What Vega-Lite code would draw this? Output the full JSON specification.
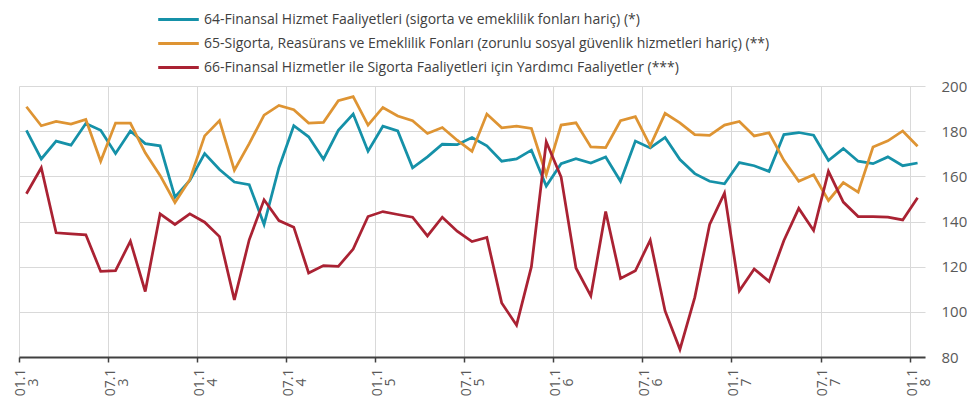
{
  "$schema": "https://vega.github.io/schema/vega-lite/v6.json",
  "width": 906,
  "height": 271,
  "autosize": {"type": "none"},
  "padding": {"left": 19, "top": 86, "right": 42, "bottom": 45},
  "background": "white",
  "config": {
    "view": {"stroke": null},
    "font": "Open Sans"
  },
  "data": {
    "values": [
      {"m":"01.13","f64":180.4,"f65":190.8,"f66":152.3},
      {"m":"02.13","f64":167.7,"f65":182.4,"f66":163.8},
      {"m":"03.13","f64":175.6,"f65":184.3,"f66":135.0},
      {"m":"04.13","f64":173.8,"f65":183.1,"f66":134.5},
      {"m":"05.13","f64":183.4,"f65":185.2,"f66":134.1},
      {"m":"06.13","f64":180.4,"f65":166.7,"f66":117.9},
      {"m":"07.13","f64":170.1,"f65":183.6,"f66":118.2},
      {"m":"08.13","f64":180.1,"f65":183.6,"f66":131.3},
      {"m":"09.13","f64":174.5,"f65":170.4,"f66":109.0},
      {"m":"10.13","f64":173.5,"f65":160.4,"f66":143.4},
      {"m":"11.13","f64":150.8,"f65":148.4,"f66":138.7},
      {"m":"12.13","f64":158.2,"f65":158.5,"f66":143.4},
      {"m":"01.14","f64":170.1,"f65":177.9,"f66":139.7},
      {"m":"02.14","f64":163.0,"f65":184.7,"f66":133.3},
      {"m":"03.14","f64":157.5,"f65":162.7,"f66":105.3},
      {"m":"04.14","f64":156.3,"f65":174.5,"f66":131.9},
      {"m":"05.14","f64":138.7,"f65":187.1,"f66":149.6},
      {"m":"06.14","f64":163.8,"f65":191.4,"f66":140.4},
      {"m":"07.14","f64":182.4,"f65":189.5,"f66":137.5},
      {"m":"08.14","f64":177.5,"f65":183.6,"f66":117.2},
      {"m":"09.14","f64":167.6,"f65":183.9,"f66":120.5},
      {"m":"10.14","f64":180.4,"f65":193.5,"f66":120.1},
      {"m":"11.14","f64":187.6,"f65":195.3,"f66":127.8},
      {"m":"12.14","f64":171.1,"f65":182.7,"f66":142.2},
      {"m":"01.15","f64":182.2,"f65":190.5,"f66":144.4},
      {"m":"02.15","f64":180.1,"f65":186.7,"f66":143.1},
      {"m":"03.15","f64":163.8,"f65":184.6,"f66":141.9},
      {"m":"04.15","f64":168.6,"f65":179.0,"f66":133.6},
      {"m":"05.15","f64":174.2,"f65":181.6,"f66":141.9},
      {"m":"06.15","f64":174.0,"f65":176.0,"f66":135.7},
      {"m":"07.15","f64":177.2,"f65":171.1,"f66":131.1},
      {"m":"08.15","f64":173.5,"f65":187.6,"f66":132.9},
      {"m":"09.15","f64":166.7,"f65":181.5,"f66":103.9},
      {"m":"10.15","f64":167.7,"f65":182.2,"f66":94.1},
      {"m":"11.15","f64":171.6,"f65":181.2,"f66":120.0},
      {"m":"12.15","f64":155.7,"f65":160.7,"f66":175.3},
      {"m":"01.16","f64":165.6,"f65":182.7,"f66":159.7},
      {"m":"02.16","f64":167.8,"f65":183.7,"f66":119.4},
      {"m":"03.16","f64":165.9,"f65":173.0,"f66":107.1},
      {"m":"04.16","f64":168.6,"f65":172.7,"f66":144.4},
      {"m":"05.16","f64":157.8,"f65":184.6,"f66":114.8},
      {"m":"06.16","f64":175.6,"f65":186.4,"f66":118.2},
      {"m":"07.16","f64":172.6,"f65":173.5,"f66":131.7},
      {"m":"08.16","f64":177.2,"f65":187.9,"f66":100.4},
      {"m":"09.16","f64":167.4,"f65":183.7,"f66":83.4},
      {"m":"10.16","f64":161.2,"f65":178.5,"f66":106.4},
      {"m":"11.16","f64":157.8,"f65":178.1,"f66":138.7},
      {"m":"12.16","f64":156.7,"f65":182.7,"f66":152.6},
      {"m":"01.17","f64":166.1,"f65":184.3,"f66":109.3},
      {"m":"02.17","f64":164.7,"f65":177.9,"f66":119.0},
      {"m":"03.17","f64":162.2,"f65":179.3,"f66":113.5},
      {"m":"04.17","f64":178.5,"f65":167.1,"f66":131.6},
      {"m":"05.17","f64":179.4,"f65":157.8,"f66":145.8},
      {"m":"06.17","f64":178.2,"f65":160.7,"f66":136.0},
      {"m":"07.17","f64":167.0,"f65":149.3,"f66":162.2},
      {"m":"08.17","f64":172.3,"f65":157.2,"f66":148.6},
      {"m":"09.17","f64":166.7,"f65":153.0,"f66":142.2},
      {"m":"10.17","f64":165.6,"f65":173.0,"f66":142.2},
      {"m":"11.17","f64":168.6,"f65":175.7,"f66":141.9},
      {"m":"12.17","f64":164.7,"f65":180.1,"f66":140.7},
      {"m":"01.18","f64":165.9,"f65":173.3,"f66":150.5}
    ]
  },
  "transform": [{"fold": ["f64", "f65", "f66"], "as": ["seri", "deger"]}],
  "mark": {"type": "line", "strokeWidth": 2.75, "strokeJoin": "miter"},
  "encoding": {
    "x": {
      "field": "m",
      "type": "ordinal",
      "sort": null,
      "scale": {"type": "band", "paddingInner": 0, "paddingOuter": 0},
      "axis": {
        "title": null,
        "values": ["01.13","07.13","01.14","07.14","01.15","07.15","01.16","07.16","01.17","07.17","01.18"],
        "bandPosition": 0,
        "grid": true,
        "gridColor": "#d9d9d9",
        "gridWidth": 1,
        "domainColor": "#404040",
        "domainWidth": 2,
        "tickColor": "#404040",
        "tickSize": 5,
        "tickWidth": 1.5,
        "labelAngle": 270,
        "labelAlign": "center",
        "labelBaseline": "middle",
        "labelPadding": 20,
        "labelOffset": -5,
        "labelLineHeight": 13,
        "labelFontSize": 14,
        "labelColor": "#595959",
        "labelExpr": "[slice(datum.label,0,4), slice(datum.label,4)]"
      }
    },
    "y": {
      "field": "deger",
      "type": "quantitative",
      "scale": {"domain": [80, 200], "nice": false, "zero": false},
      "axis": {
        "title": null,
        "orient": "right",
        "values": [80, 100, 120, 140, 160, 180, 200],
        "grid": true,
        "gridColor": "#d9d9d9",
        "gridWidth": 1,
        "domain": false,
        "ticks": false,
        "labelPadding": 16,
        "labelFontSize": 15,
        "labelColor": "#595959"
      }
    },
    "color": {
      "field": "seri",
      "type": "nominal",
      "scale": {"domain": ["f64", "f65", "f66"], "range": ["#1591A8", "#DE9433", "#AA2233"]},
      "legend": {
        "title": null,
        "orient": "none",
        "legendX": 151,
        "legendY": -75,
        "direction": "vertical",
        "symbolType": "M-2.9,0H2.9",
        "symbolSize": 196,
        "symbolStrokeWidth": 3,
        "rowPadding": 8,
        "labelOffset": 17,
        "labelFontSize": 14,
        "labelColor": "#404040",
        "labelLimit": 900,
        "labelExpr": "datum.label == 'f64' ? '64-Finansal Hizmet Faaliyetleri (sigorta ve emeklilik fonları hariç) (*)' : datum.label == 'f65' ? '65-Sigorta, Reasürans ve Emeklilik Fonları (zorunlu sosyal güvenlik hizmetleri hariç) (**)' : '66-Finansal Hizmetler ile Sigorta Faaliyetleri için Yardımcı Faaliyetler (***)'"
      }
    }
  }
}
